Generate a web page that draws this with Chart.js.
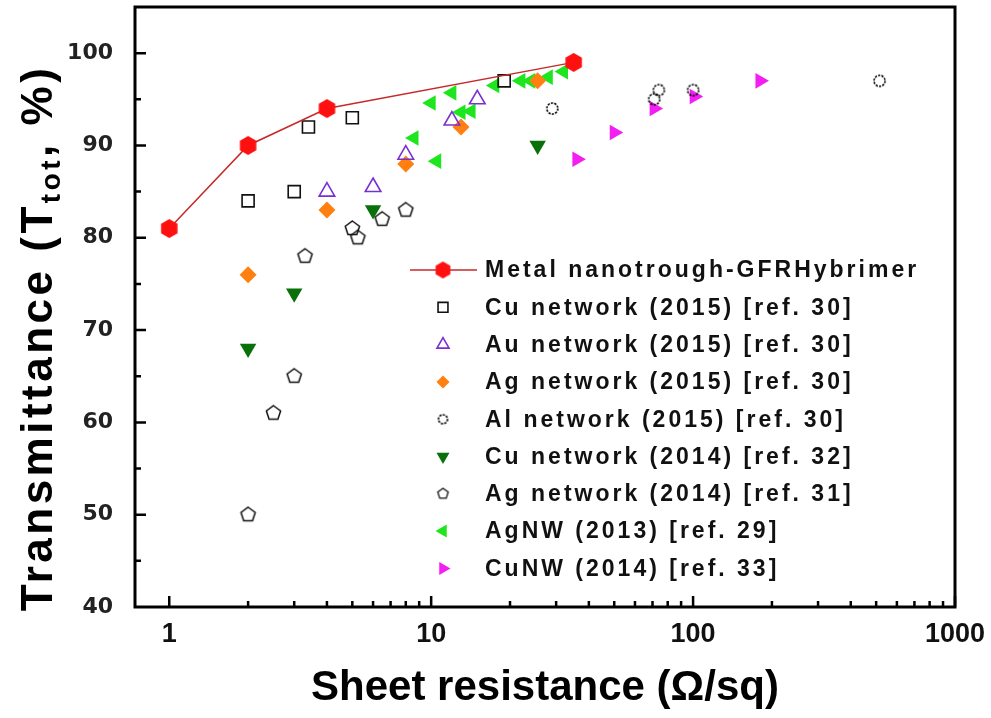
<!DOCTYPE html>
<html>
<head>
<meta charset="utf-8">
<script src="https://cdn.jsdelivr.net/npm/chart.js@4.4.1/dist/chart.umd.min.js"></script>
<style>
  html, body { margin: 0; padding: 0; background: #fff; }
  #chart { display: block; }
</style>
</head>
<body>
<canvas id="chart" width="991" height="718"></canvas>
<script>
// values: sheet resistance (ohm/sq) vs total transmittance (%)
const metalR = [1, 2, 4, 35];
const metalT = [81, 90, 94, 99];
const cu2015R = [2, 3, 3.4, 5, 19];
const cu2015T = [84, 85, 92, 93, 97];
const au2015R = [4, 6, 8, 12, 15];
const au2015T = [85, 85.5, 89, 92.7, 95];
const ag2015R = [2, 4, 8, 13, 25.5];
const ag2015T = [76, 83, 88, 92, 97];
const al2015R = [29, 71, 74, 100, 515];
const al2015T = [94, 95, 96, 96, 97];
const cu2014R = [2, 3, 6, 25.5];
const cu2014T = [68, 74, 83, 90];
const ag2014R = [2, 2.5, 3, 3.3, 5, 5.25, 6.5, 8];
const ag2014T = [50, 61, 65, 78, 81, 80, 82, 83];
const agnwR = [8.6, 10, 10.5, 12, 13, 14.2, 17.5, 22, 24, 28, 32];
const agnwT = [90.8, 94.6, 88.3, 95.7, 93.6, 93.7, 96.5, 97, 97, 97.4, 98];
const cunwR = [36, 50, 71, 101, 180];
const cunwT = [88.5, 91.4, 94, 95.3, 97];

const seriesLabels = [
  "Metal nanotrough-GFRHybrimer",
  "Cu network (2015) [ref. 30]",
  "Au network (2015) [ref. 30]",
  "Ag network (2015) [ref. 30]",
  "Al network (2015) [ref. 30]",
  "Cu network (2014) [ref. 32]",
  "Ag network (2014) [ref. 31]",
  "AgNW (2013) [ref. 29]",
  "CuNW (2014) [ref. 33]"
];
const xTickValues = [1, 10, 100, 1000];
const yTickValues = [40, 50, 60, 70, 80, 90, 100];

const pairs = (xs, ys) => xs.map((x, i) => ({ x, y: ys[i] }));

// small canvases for marker shapes chart.js has no builtin for
const polygonMarker = (sides, size, fill, stroke, lw) => {
  const c = document.createElement("canvas");
  c.width = c.height = size + 4;
  const g = c.getContext("2d");
  const r = size / 2, cx = c.width / 2, cy = c.height / 2;
  g.beginPath();
  for (let k = 0; k < sides; k++) {
    const a = -Math.PI / 2 + (k * 2 * Math.PI) / sides;
    g[k ? "lineTo" : "moveTo"](cx + r * Math.cos(a), cy + r * Math.sin(a));
  }
  g.closePath();
  if (fill) { g.fillStyle = fill; g.fill(); }
  if (stroke) { g.strokeStyle = stroke; g.lineWidth = lw; g.stroke(); }
  return c;
};
const dottedCircle = size => {
  const c = document.createElement("canvas");
  c.width = c.height = size + 4;
  const g = c.getContext("2d");
  g.beginPath();
  g.arc(c.width / 2, c.height / 2, size / 2, 0, 2 * Math.PI);
  g.setLineDash([2.2, 1.2]);
  g.strokeStyle = "#000";
  g.lineWidth = 1.6;
  g.stroke();
  return c;
};

const hexRed = polygonMarker(6, 19, "#ff1010", null, 0);
const hexRedSmall = polygonMarker(6, 17, "#ff1010", null, 0);
const pentagon = polygonMarker(5, 15, null, "#111", 1.5);
const pentagonSmall = polygonMarker(5, 11, null, "#111", 1.3);
const circle = dottedCircle(11);
const circleSmall = dottedCircle(9);
const none = "rgba(0,0,0,0)";

const datasets = [
  { data: pairs(metalR, metalT), pointStyle: hexRed, legendStyle: hexRedSmall,
    showLine: true, borderColor: "#c82828", borderWidth: 1.5, pointBackgroundColor: "#ff1010" },
  { data: pairs(cu2015R, cu2015T), pointStyle: "rect", pointRadius: 8.5, legendRadius: 7,
    pointBackgroundColor: none, pointBorderColor: "#111", pointBorderWidth: 1.6 },
  { data: pairs(au2015R, au2015T), pointStyle: "triangle", pointRadius: 9, legendRadius: 7,
    pointBackgroundColor: none, pointBorderColor: "#7a30d0", pointBorderWidth: 1.6 },
  { data: pairs(ag2015R, ag2015T), pointStyle: "rectRot", pointRadius: 8.5, legendRadius: 6.5,
    pointBackgroundColor: "#ff8010", pointBorderColor: "#ff8010", pointBorderWidth: 0 },
  { data: pairs(al2015R, al2015T), pointStyle: circle, legendStyle: circleSmall },
  { data: pairs(cu2014R, cu2014T), pointStyle: "triangle", pointRotation: 180, pointRadius: 9.5, legendRadius: 7.5,
    pointBackgroundColor: "#0a700a", pointBorderColor: "#0a700a", pointBorderWidth: 0 },
  { data: pairs(ag2014R, ag2014T), pointStyle: pentagon, legendStyle: pentagonSmall },
  { data: pairs(agnwR, agnwT), pointStyle: "triangle", pointRotation: 270, pointRadius: 9, legendRadius: 7.5,
    pointBackgroundColor: "#1ee61e", pointBorderColor: "#1ee61e", pointBorderWidth: 0 },
  { data: pairs(cunwR, cunwT), pointStyle: "triangle", pointRotation: 90, pointRadius: 9, legendRadius: 7.5,
    pointBackgroundColor: "#f21ef2", pointBorderColor: "#f21ef2", pointBorderWidth: 0 }
].map((ds, i) => ({
  label: seriesLabels[i],
  showLine: false,
  pointRadius: 9,
  pointBorderWidth: 0,
  pointBorderColor: "#000",
  ...ds
}));

// no extra room for labels at the axis ends, the box fills the figure
const fixScale = size => s => {
  if (s.isHorizontal()) s.height = size; else s.width = size;
  s.paddingTop = s.paddingBottom = s.paddingLeft = s.paddingRight = 0;
};

// box around the plot plus inward ticks
const frameAndTicks = {
  id: "frameAndTicks",
  beforeDatasetsDraw(chart) {
    const { ctx, chartArea: a, scales: { x, y } } = chart;
    ctx.save();
    ctx.strokeStyle = "#000";
    ctx.lineWidth = 2.5;
    ctx.beginPath();
    for (let d = 0.1; d <= 100; d *= 10) {
      for (let k = 1; k <= 9; k++) {
        const v = d * k * 10;
        if (v < x.min || v > x.max) continue;
        const px = x.getPixelForValue(v);
        const len = k === 1 ? 11 : 6;
        ctx.moveTo(px, a.bottom);
        ctx.lineTo(px, a.bottom - len);
      }
    }
    for (let v = 45; v < y.max; v += 5) {
      const py = y.getPixelForValue(v);
      const len = v % 10 === 0 ? 11 : 6;
      ctx.moveTo(a.left, py);
      ctx.lineTo(a.left + len, py);
    }
    ctx.stroke();
    ctx.lineWidth = 3;
    ctx.strokeRect(a.left, a.top, a.right - a.left, a.bottom - a.top);
    ctx.restore();
  }
};

// legend drawn inside the plot, as in the figure
const insideLegend = {
  id: "insideLegend",
  afterDatasetsDraw(chart) {
    const ctx = chart.ctx;
    const markX = 443, textX = 485, top = 270, step = 37.3;
    ctx.save();
    chart.data.datasets.forEach((ds, i) => {
      const yy = top + i * step;
      if (ds.showLine) {
        ctx.strokeStyle = ds.borderColor;
        ctx.lineWidth = ds.borderWidth;
        ctx.beginPath();
        ctx.moveTo(410, yy);
        ctx.lineTo(477, yy);
        ctx.stroke();
      }
      ctx.fillStyle = ds.pointBackgroundColor;
      ctx.strokeStyle = ds.pointBorderColor;
      ctx.lineWidth = ds.pointBorderWidth;
      Chart.helpers.drawPoint(ctx, {
        pointStyle: ds.legendStyle || ds.pointStyle,
        rotation: ds.pointRotation || 0,
        radius: ds.legendRadius || 7,
        borderWidth: ds.pointBorderWidth
      }, markX, yy);
      ctx.fillStyle = "#111";
      ctx.font = "bold 23px 'Liberation Sans', Arial, sans-serif";
      ctx.letterSpacing = "3px";
      ctx.textBaseline = "middle";
      ctx.textAlign = "left";
      ctx.fillText(ds.label, textX, yy + 1);
    });
    ctx.restore();
  }
};

// rotated y title with the "tot" subscript
const yTitle = {
  id: "yTitle",
  afterDraw(chart) {
    const ctx = chart.ctx;
    const parts = [
      { t: "Transmittance (T", size: 44, dy: 0 },
      { t: "tot", size: 28, dy: 8 },
      { t: ", %)", size: 44, dy: 0 }
    ];
    ctx.save();
    ctx.fillStyle = "#000";
    ctx.textBaseline = "alphabetic";
    ctx.textAlign = "left";
    ctx.letterSpacing = "3.5px";
    let total = 0;
    parts.forEach(p => {
      ctx.font = `bold ${p.size}px 'Liberation Sans', Arial, sans-serif`;
      p.w = ctx.measureText(p.t).width;
      total += p.w;
    });
    ctx.translate(52, 338);
    ctx.rotate(-Math.PI / 2);
    let xx = -total / 2;
    parts.forEach(p => {
      ctx.font = `bold ${p.size}px 'Liberation Sans', Arial, sans-serif`;
      ctx.fillText(p.t, xx, p.dy);
      xx += p.w;
    });
    ctx.restore();
  }
};

new Chart(document.getElementById("chart"), {
  type: "scatter",
  data: { datasets },
  options: {
    responsive: false,
    animation: false,
    devicePixelRatio: 1,
    layout: { autoPadding: false, padding: { top: 7, right: 36, left: 0, bottom: 0 } },
    plugins: { legend: { display: false }, tooltip: { enabled: false } },
    scales: {
      x: {
        type: "logarithmic",
        bounds: "data",
        min: 0.74,
        max: 1000,
        grid: { display: false, drawTicks: false },
        border: { display: false },
        afterBuildTicks: s => { s.ticks = xTickValues.map(v => ({ value: v })); },
        afterFit: fixScale(111),
        ticks: {
          callback: v => String(v),
          autoSkip: false,
          maxRotation: 0,
          padding: 11,
          color: "#111",
          font: { family: "'Liberation Sans', Arial, sans-serif", size: 27, weight: "bold" }
        },
        title: {
          display: true,
          text: "Sheet resistance (Ω/sq)",
          color: "#000",
          padding: { top: 0, bottom: 4 },
          font: { family: "'Liberation Sans', Arial, sans-serif", size: 42, weight: "bold" }
        }
      },
      y: {
        bounds: "data",
        min: 40,
        max: 105,
        grid: { display: false, drawTicks: false },
        border: { display: false },
        afterBuildTicks: s => { s.ticks = yTickValues.map(v => ({ value: v })); },
        afterFit: fixScale(135),
        ticks: {
          callback: v => String(v),
          padding: 22,
          color: "#222",
          font: { family: "'DejaVu Sans', sans-serif", size: 22, weight: "bold" }
        }
      }
    }
  },
  plugins: [frameAndTicks, insideLegend, yTitle]
});
</script>
</body>
</html>
